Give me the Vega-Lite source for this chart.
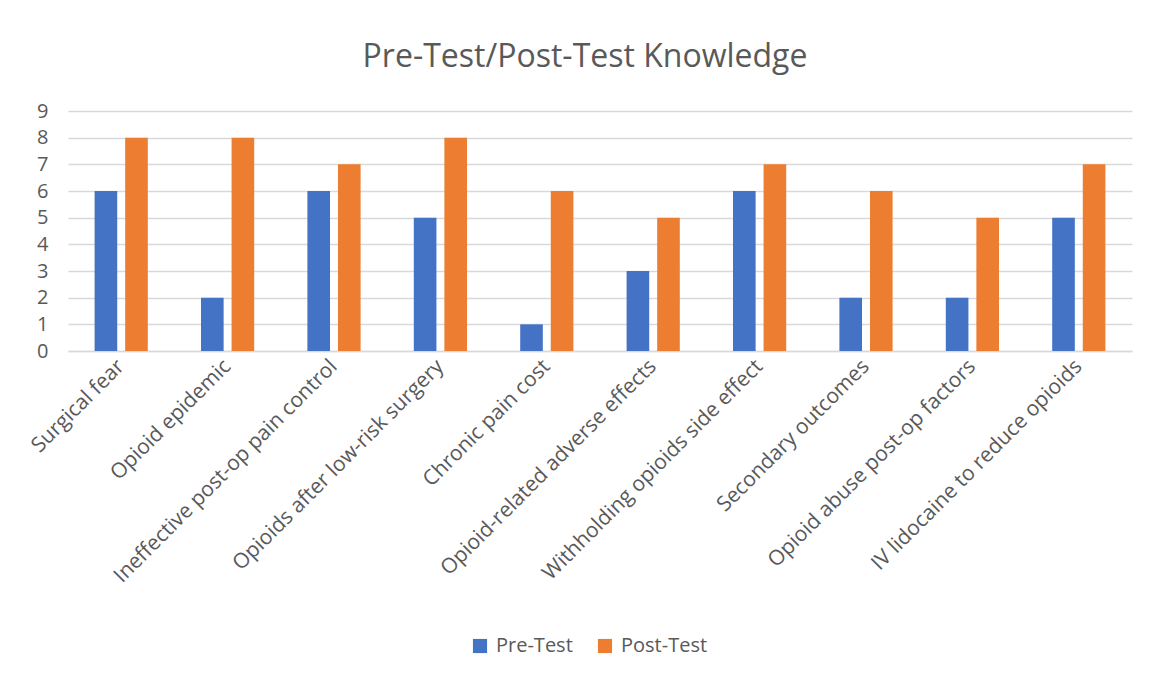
{
  "$schema": "https://vega.github.io/schema/vega-lite/v6.json",
  "width": 1064,
  "height": 240,
  "autosize": {"type": "none"},
  "padding": {"left": 68, "top": 111, "right": 19, "bottom": 325},
  "background": "white",
  "config": {"view": {"stroke": null}, "font": "Open Sans"},
  "title": {"text": "Pre-Test/Post-Test Knowledge", "fontSize": 32, "font": "Open Sans", "fontWeight": "normal", "color": "#595959", "anchor": "middle", "dx": -15, "offset": 27},
  "data": {"values": [
    {"topic": "Surgical fear", "test": "Pre-Test", "score": 6},
    {"topic": "Surgical fear", "test": "Post-Test", "score": 8},
    {"topic": "Opioid epidemic", "test": "Pre-Test", "score": 2},
    {"topic": "Opioid epidemic", "test": "Post-Test", "score": 8},
    {"topic": "Ineffective post-op pain control", "test": "Pre-Test", "score": 6},
    {"topic": "Ineffective post-op pain control", "test": "Post-Test", "score": 7},
    {"topic": "Opioids after low-risk surgery", "test": "Pre-Test", "score": 5},
    {"topic": "Opioids after low-risk surgery", "test": "Post-Test", "score": 8},
    {"topic": "Chronic pain cost", "test": "Pre-Test", "score": 1},
    {"topic": "Chronic pain cost", "test": "Post-Test", "score": 6},
    {"topic": "Opioid-related adverse effects", "test": "Pre-Test", "score": 3},
    {"topic": "Opioid-related adverse effects", "test": "Post-Test", "score": 5},
    {"topic": "Withholding opioids side effect", "test": "Pre-Test", "score": 6},
    {"topic": "Withholding opioids side effect", "test": "Post-Test", "score": 7},
    {"topic": "Secondary outcomes", "test": "Pre-Test", "score": 2},
    {"topic": "Secondary outcomes", "test": "Post-Test", "score": 6},
    {"topic": "Opioid abuse post-op factors", "test": "Pre-Test", "score": 2},
    {"topic": "Opioid abuse post-op factors", "test": "Post-Test", "score": 5},
    {"topic": "IV lidocaine to reduce opioids", "test": "Pre-Test", "score": 5},
    {"topic": "IV lidocaine to reduce opioids", "test": "Post-Test", "score": 7}
  ]},
  "mark": {"type": "bar"},
  "encoding": {
    "x": {
      "field": "topic", "type": "nominal", "sort": null,
      "scale": {"paddingInner": 0.5, "paddingOuter": 0.25},
      "axis": {"title": null, "labelAngle": -45, "labelAlign": "right", "labelBaseline": "middle", "labelFontSize": 21, "labelColor": "#595959", "labelFont": "Open Sans", "ticks": false, "domainColor": "#d9d9d9", "domainWidth": 1.5, "labelPadding": 12, "labelLimit": 400, "labelOverlap": false}
    },
    "xOffset": {"field": "test", "type": "nominal", "sort": ["Pre-Test", "Post-Test"], "scale": {"paddingInner": 0.26}},
    "y": {
      "field": "score", "type": "quantitative",
      "scale": {"domain": [0, 9], "nice": false},
      "axis": {"title": null, "values": [0,1,2,3,4,5,6,7,8,9], "labelOverlap": false, "labelFontSize": 20, "labelColor": "#595959", "labelFont": "Open Sans", "ticks": false, "domain": false, "gridColor": "#d9d9d9", "gridWidth": 1.5, "labelPadding": 20}
    },
    "color": {
      "field": "test", "type": "nominal", "sort": ["Pre-Test", "Post-Test"],
      "scale": {"domain": ["Pre-Test", "Post-Test"], "range": ["#4472C4", "#ED7D31"]},
      "legend": {"title": null, "orient": "none", "direction": "horizontal", "legendX": 402, "legendY": 525, "symbolType": "square", "symbolSize": 200, "symbolStrokeWidth": 0, "labelFontSize": 20, "labelColor": "#595959", "labelFont": "Open Sans", "columnPadding": 22, "labelOffset": 6}
    }
  }
}
